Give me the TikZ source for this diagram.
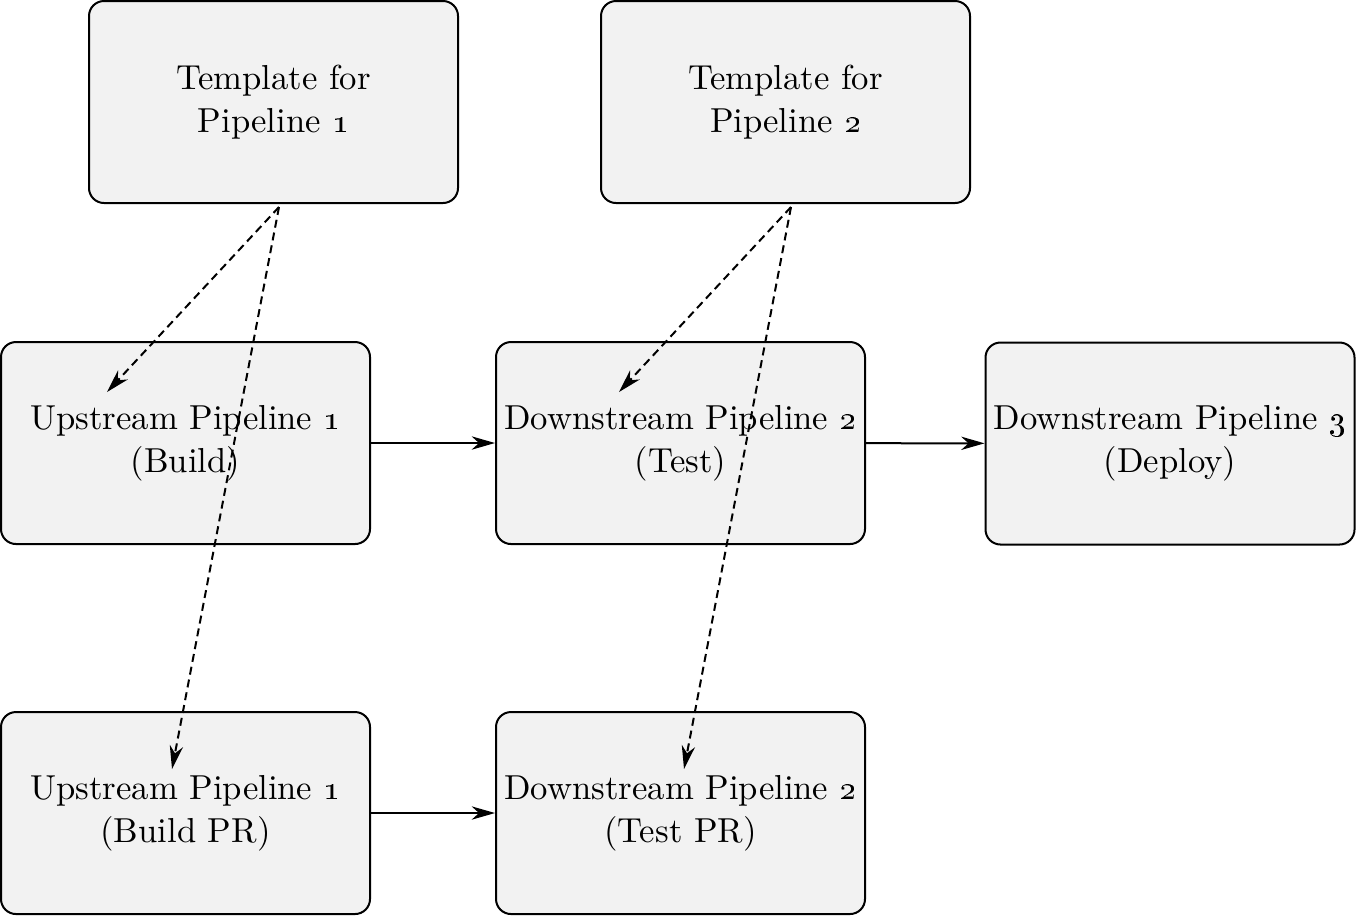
\documentclass[tikz,border=0pt]{standalone}
\usetikzlibrary{arrows.meta,calc}
\begin{document}
\begin{tikzpicture}[x=0.3pt, y=-0.3pt, >={Stealth[length=7pt,width=4pt,inset=2.2pt]},
    box/.style={draw, line width=0.6pt, fill=gray!10, rounded corners=4.5pt,
        minimum width=110.7pt, minimum height=60.6pt, inner xsep=1pt, align=center,
        font=\fontsize{10.4}{12.9}\selectfont},
    flow/.style={->, line width=0.6pt},
    uses/.style={->, line width=0.6pt, dash pattern=on 2.4pt off 1.5pt}]
    \useasboundingbox (0,0) rectangle (1356,916);

    % Templates
    \node[box] (t1) at (273.5,102) {Template for\\Pipeline \oldstylenums{1}};
    \node[box] (t2) at (785.5,102) {Template for\\Pipeline \oldstylenums{2}};

    % Main pipelines
    \node[box] (u1) at (185.5,443) {Upstream Pipeline \oldstylenums{1}\\(Build)};
    \node[box] (d2) at (680.5,443) {Downstream Pipeline \oldstylenums{2}\\(Test)};
    \node[box] (d3) at (1170,443.5) {Downstream Pipeline \oldstylenums{3}\\(Deploy)};

    % PR pipelines
    \node[box] (u1pr) at (185.5,813) {Upstream Pipeline \oldstylenums{1}\\(Build PR)};
    \node[box] (d2pr) at (680.5,813) {Downstream Pipeline \oldstylenums{2}\\(Test PR)};

    % Triggers
    \draw[flow] (u1) -- (d2);
    \draw[flow] (d2) -- (d3);
    \draw[flow] (u1pr) -- (d2pr);

    % Template usage
    \coordinate (t1out) at ($(t1.south)+(5.5,3)$);
    \coordinate (t2out) at ($(t2.south)+(5.5,3)$);
    \coordinate (u1in) at ($(u1.north west)+(107,51)$);
    \coordinate (u1prin) at ($(u1pr.north west)+(172,58)$);
    \coordinate (d2in) at ($(d2.north west)+(124,51)$);
    \coordinate (d2prin) at ($(d2pr.north west)+(189,58)$);
    \draw[uses] (t1out) -- (u1in);
    \draw[uses] (t1out) -- (u1prin);
    \draw[uses] (t2out) -- (d2in);
    \draw[uses] (t2out) -- (d2prin);
\end{tikzpicture}
\end{document}
